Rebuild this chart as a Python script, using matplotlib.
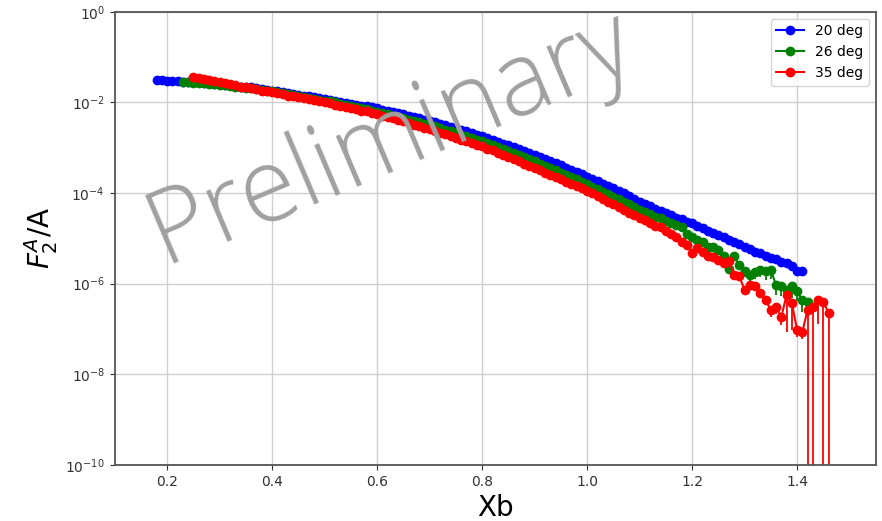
import numpy as np
import matplotlib
matplotlib.use("Agg")
import matplotlib.pyplot as plt

# bin centres (Xb) for each angle setting
xb_20 = np.round(np.arange(0.18, 1.415, 0.01), 2)
xb_26 = np.round(np.arange(0.23, 1.425, 0.01), 2)
xb_35 = np.round(np.arange(0.25, 1.465, 0.01), 2)

# log10(F2A/A)
log_f2_20 = [
    -1.51, -1.51, -1.52, -1.52, -1.53, -1.54, -1.54, -1.55, -1.56, -1.57,
    -1.58, -1.59, -1.60, -1.61, -1.62, -1.63, -1.65, -1.66, -1.67, -1.69,
    -1.70, -1.72, -1.74, -1.75, -1.77, -1.79, -1.81, -1.83, -1.85, -1.87,
    -1.89, -1.91, -1.93, -1.95, -1.97, -1.99, -2.01, -2.03, -2.05, -2.07,
    -2.09, -2.11, -2.13, -2.16, -2.18, -2.21, -2.23, -2.26, -2.29, -2.32,
    -2.35, -2.38, -2.41, -2.44, -2.47, -2.50, -2.54, -2.57, -2.61, -2.64,
    -2.68, -2.71, -2.75, -2.79, -2.83, -2.87, -2.91, -2.95, -2.99, -3.03,
    -3.07, -3.12, -3.16, -3.21, -3.25, -3.30, -3.34, -3.39, -3.44, -3.49,
    -3.53, -3.58, -3.64, -3.69, -3.74, -3.79, -3.85, -3.90, -3.96, -4.01,
    -4.07, -4.13, -4.19, -4.24, -4.29, -4.35, -4.40, -4.45, -4.49, -4.54,
    -4.58, -4.63, -4.67, -4.72, -4.78, -4.83, -4.88, -4.93, -4.98, -5.03,
    -5.08, -5.13, -5.18, -5.23, -5.29, -5.33, -5.39, -5.44, -5.46, -5.52,
    -5.55, -5.62, -5.72, -5.71,
]
log_f2_26 = [
    -1.55, -1.56, -1.57, -1.57, -1.58, -1.59, -1.60, -1.61, -1.62, -1.64,
    -1.65, -1.66, -1.68, -1.69, -1.71, -1.72, -1.74, -1.76, -1.78, -1.80,
    -1.82, -1.84, -1.86, -1.88, -1.90, -1.92, -1.94, -1.96, -1.98, -2.00,
    -2.03, -2.05, -2.08, -2.10, -2.13, -2.15, -2.18, -2.21, -2.24, -2.26,
    -2.29, -2.32, -2.35, -2.38, -2.41, -2.44, -2.47, -2.50, -2.53, -2.57,
    -2.60, -2.64, -2.67, -2.71, -2.75, -2.78, -2.82, -2.86, -2.90, -2.94,
    -2.99, -3.03, -3.08, -3.12, -3.17, -3.21, -3.26, -3.30, -3.35, -3.40,
    -3.45, -3.50, -3.55, -3.60, -3.65, -3.70, -3.75, -3.80, -3.86, -3.91,
    -3.97, -4.03, -4.08, -4.14, -4.20, -4.25, -4.31, -4.37, -4.42, -4.47,
    -4.52, -4.56, -4.61, -4.66, -4.70, -4.76, -4.90, -4.98, -5.03, -5.08,
    -5.18, -5.20, -5.25, -5.40, -5.68, -5.40, -5.58, -5.73, -5.81, -5.75,
    -5.70, -5.73, -5.70, -6.03, -6.06, -6.14, -6.06, -6.17, -6.36, -6.40,
]
log_f2_35 = [
    -1.43, -1.46, -1.48, -1.51, -1.53, -1.56, -1.58, -1.60, -1.62, -1.65,
    -1.67, -1.69, -1.71, -1.74, -1.76, -1.78, -1.80, -1.82, -1.85, -1.87,
    -1.89, -1.91, -1.93, -1.95, -1.98, -2.00, -2.02, -2.05, -2.07, -2.10,
    -2.12, -2.15, -2.18, -2.20, -2.23, -2.26, -2.29, -2.32, -2.35, -2.39,
    -2.42, -2.45, -2.49, -2.52, -2.56, -2.59, -2.63, -2.67, -2.70, -2.74,
    -2.78, -2.82, -2.86, -2.89, -2.93, -2.97, -3.02, -3.06, -3.11, -3.16,
    -3.21, -3.26, -3.30, -3.35, -3.40, -3.45, -3.50, -3.55, -3.60, -3.65,
    -3.70, -3.75, -3.80, -3.85, -3.90, -3.95, -4.01, -4.07, -4.13, -4.19,
    -4.25, -4.31, -4.37, -4.43, -4.49, -4.55, -4.60, -4.66, -4.72, -4.76,
    -4.84, -4.90, -4.97, -5.08, -5.15, -5.33, -5.22, -5.30, -5.38, -5.42,
    -5.47, -5.55, -5.51, -5.80, -5.84, -6.14, -6.03, -6.06, -6.20, -6.36,
    -6.58, -6.51, -6.73, -6.25, -6.43, -7.02, -7.06, -6.58, -6.51, -6.36,
    -6.40, -6.65,
]

# lower relative errors on the last few bins (> 1 means the bar runs below zero)
rel_err_26_tail = [0.1, 0.15, 0.2, 0.15, 0.2, 0.25, 0.25, 0.3, 0.3,
                   0.35, 0.35, 0.4, 0.4, 0.4, 0.45, 0.4, 0.45, 0.5]
rel_err_35_tail = [0.3, 0.3, 0.35, 0.85, 0.75, 0.3, 0.3, 1.3, 1.3, 0.7, 1.4, 1.4]

labels = ["20 deg", "26 deg", "35 deg"]
colors = ["b", "g", "r"]

f2_20 = 10.0 ** np.array(log_f2_20)
f2_26 = 10.0 ** np.array(log_f2_26)
f2_35 = 10.0 ** np.array(log_f2_35)

err_20 = np.zeros_like(f2_20)
err_26 = np.zeros_like(f2_26)
err_26[-len(rel_err_26_tail):] = np.array(rel_err_26_tail) * f2_26[-len(rel_err_26_tail):]
err_35 = np.zeros_like(f2_35)
err_35[-len(rel_err_35_tail):] = np.array(rel_err_35_tail) * f2_35[-len(rel_err_35_tail):]

fig = plt.figure(figsize=(8.82, 5.21), dpi=100)
ax = fig.add_axes([0.130, 0.1075, 0.863, 0.870])
ax.set_yscale("log")

series = [(xb_20, f2_20, err_20), (xb_26, f2_26, err_26), (xb_35, f2_35, err_35)]
for (x, y, e), c, lab in zip(series, colors, labels):
    # error bars only point downward (upper side hidden under the markers)
    ax.errorbar(x, y, yerr=[e, 0.1 * e], fmt="none", ecolor=c, elinewidth=1.3)
    ax.plot(x, y, "o-", color=c, ms=6, lw=1.5, label=lab)

ax.set_xlim(0.1, 1.55)
ax.set_ylim(1e-10, 1e0)
ax.set_xticks([0.2, 0.4, 0.6, 0.8, 1.0, 1.2, 1.4])
ax.set_yticks([1e-10, 1e-8, 1e-6, 1e-4, 1e-2, 1e0])
ax.yaxis.set_minor_locator(matplotlib.ticker.NullLocator())
ax.tick_params(labelsize=10, colors="#333333")
ax.grid(True, color="#cfcfcf", lw=1)
for s in ax.spines.values():
    s.set_color("#555555")
    s.set_linewidth(1.3)

ax.set_xlabel("Xb", fontsize=20, labelpad=4)
ax.set_ylabel("$F_2^A$/A", fontsize=20)
ax.yaxis.set_label_coords(-0.072, 0.5)
ax.legend(loc="upper right", fontsize=10)

# watermark
fig.text(0.456, 0.688, "Preliminary", fontsize=74, family="Open Sans",
         fontweight="light", color="#a0a0a0", rotation=23,
         rotation_mode="anchor", ha="center", va="baseline", zorder=10)

fig.savefig("out.png", dpi=100)
